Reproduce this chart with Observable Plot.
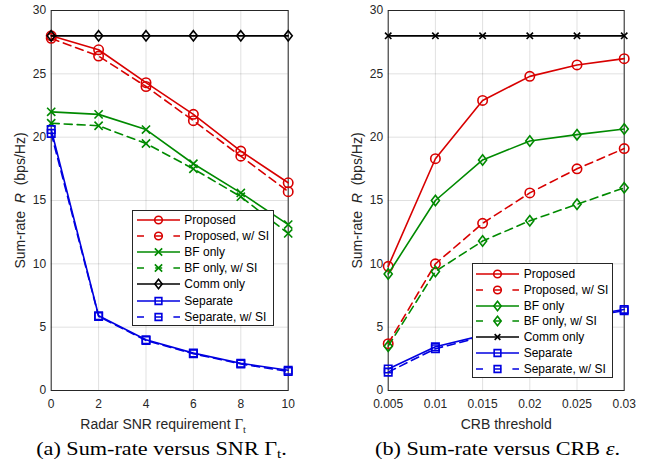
<!DOCTYPE html>
<html><head><meta charset="utf-8">
<script src="https://cdn.jsdelivr.net/npm/d3@7"></script>
<script src="https://cdn.jsdelivr.net/npm/@observablehq/plot@0.6"></script>
<style>
body{margin:0;background:#fff}
#root{position:relative;width:650px;height:462px;overflow:hidden;background:#fff;font-family:"Liberation Sans",Arial,sans-serif}
.panel{position:absolute;top:0;width:325px;height:438px}
.legend{position:absolute;box-sizing:border-box;border:1px solid #262626;background:#fff;font-size:12px;color:#000}
.legend .row{position:absolute;left:0;height:16px;width:100%}
.legend .row svg{position:absolute;left:3.4px;top:0}
.legend .row span{position:absolute;left:51px;top:0;line-height:16px;white-space:nowrap}
.cap{position:absolute;top:439px;width:325px;text-align:center;font-family:"Liberation Serif","Times New Roman",serif;font-size:18.5px;line-height:20px;transform:scaleX(1.2);transform-origin:center;color:#000;white-space:nowrap}
.cap sub{font-size:12.5px;vertical-align:-3px;line-height:0}
</style></head>
<body>
<div id="root">
  <div id="pa" class="panel" style="left:0"></div>
  <div id="pb" class="panel" style="left:325px"></div>
  <div id="la" class="legend" style="left:132.3px;top:210px;width:141.4px;height:116px"></div>
  <div id="lb" class="legend" style="left:471.7px;top:263.3px;width:141px;height:115px"></div>
  <div class="cap" style="left:-1px">(a) Sum-rate versus SNR Γ<sub>t</sub>.</div>
  <div class="cap" style="left:335px">(b) Sum-rate versus CRB <i>ε</i>.</div>
</div>
<script>
// ---------- data: panel (a) ----------
const snrX = [0, 2, 4, 6, 8, 10];
const snrProposed   = [28.0, 26.9, 24.3, 21.8, 18.9, 16.4];
const snrProposedSI = [27.8, 26.4, 24.0, 21.3, 18.5, 15.7];
const snrBF         = [22.0, 21.8, 20.6, 17.9, 15.6, 13.1];
const snrBFSI       = [21.1, 20.9, 19.5, 17.5, 15.3, 12.4];
const snrComm       = [28.0, 28.0, 28.0, 28.0, 28.0, 28.0];
const snrSep        = [20.6, 5.9, 4.0, 2.95, 2.15, 1.6];
const snrSepSI      = [20.3, 5.85, 3.95, 2.9, 2.1, 1.5];
// ---------- data: panel (b) ----------
const crbX = [0.005, 0.01, 0.015, 0.02, 0.025, 0.03];
const crbProposed   = [9.8, 18.3, 22.9, 24.8, 25.7, 26.2];
const crbProposedSI = [3.7, 10.0, 13.2, 15.6, 17.5, 19.1];
const crbBF         = [9.2, 15.0, 18.2, 19.7, 20.2, 20.65];
const crbBFSI       = [3.5, 9.4, 11.8, 13.4, 14.7, 16.0];
const crbComm       = [28.0, 28.0, 28.0, 28.0, 28.0, 28.0];
const crbSep        = [1.7, 3.45, 4.35, 5.1, 5.8, 6.4];
const crbSepSI      = [1.45, 3.3, 4.25, 5.0, 5.7, 6.3];
// ---------- ticks & labels ----------
const yTicks = [0, 5, 10, 15, 20, 25, 30];
const snrTicks = [0, 2, 4, 6, 8, 10];
const crbTicks = [0.005, 0.01, 0.015, 0.02, 0.025, 0.03];
const crbTickLabels = ["0.005", "0.01", "0.015", "0.02", "0.025", "0.03"];
const legendLabels = ["Proposed", "Proposed, w/ SI", "BF only", "BF only, w/ SI", "Comm only", "Separate", "Separate, w/ SI"];

// ---------- styles ----------
const RED = "#d80000", GREEN = "#008a00", BLACK = "#000000", BLUE = "#0000e0";
const DASH = "8,5";
const LW = 1.6;
const diamondSym = {draw(ctx, size) {
  const r = Math.sqrt(size / Math.PI);
  ctx.moveTo(0, -r); ctx.lineTo(r * 0.78, 0); ctx.lineTo(0, r); ctx.lineTo(-r * 0.78, 0); ctx.closePath();
}};
const seriesA = [
  {y: snrProposed,   color: RED,   dash: null, sym: "circle", r: 4.7},
  {y: snrProposedSI, color: RED,   dash: DASH, sym: "circle", r: 4.7},
  {y: snrBF,         color: GREEN, dash: null, sym: "times",  r: 3.8},
  {y: snrBFSI,       color: GREEN, dash: DASH, sym: "times",  r: 3.8},
  {y: snrComm,       color: BLACK, dash: null, sym: diamondSym, r: 5.2},
  {y: snrSep,        color: BLUE,  dash: null, sym: "square", r: 4.2},
  {y: snrSepSI,      color: BLUE,  dash: DASH, sym: "square", r: 4.2}
];
const seriesB = [
  {y: crbProposed,   color: RED,   dash: null, sym: "circle", r: 4.7},
  {y: crbProposedSI, color: RED,   dash: DASH, sym: "circle", r: 4.7},
  {y: crbBF,         color: GREEN, dash: null, sym: diamondSym, r: 5.2},
  {y: crbBFSI,       color: GREEN, dash: DASH, sym: diamondSym, r: 5.2},
  {y: crbComm,       color: BLACK, dash: null, sym: "times",  r: 3.0},
  {y: crbSep,        color: BLUE,  dash: null, sym: "square", r: 4.2},
  {y: crbSepSI,      color: BLUE,  dash: DASH, sym: "square", r: 4.2}
];

function makePanel(xs, series, o) {
  const marks = [
    Plot.gridX(o.xTicks, {stroke: "#000", strokeOpacity: 0.12}),
    Plot.gridY(yTicks, {stroke: "#000", strokeOpacity: 0.12}),
    Plot.frame({stroke: "#262626"}),
    Plot.axisX(o.xTicks, {tickSize: 0, tickPadding: 9, tickFormat: o.tickFormat, label: o.xLabel,
      labelAnchor: "center", labelArrow: "none", labelOffset: 38}),
    Plot.axisY(yTicks, {tickSize: 0, tickPadding: 5, label: "Sum-rate R (bps/Hz)",
      labelAnchor: "center", labelArrow: "none", labelOffset: 36.5})
  ];
  for (const s of series) {
    const rows = xs.map((x, i) => ({x, y: s.y[i]}));
    marks.push(Plot.line(rows, {x: "x", y: "y", stroke: s.color, strokeWidth: LW, strokeDasharray: s.dash}));
    marks.push(Plot.dot(rows, {x: "x", y: "y", stroke: s.color, fill: "none", strokeWidth: LW, symbol: s.sym, r: s.r}));
  }
  return Plot.plot({
    width: 325, height: 438,
    marginLeft: o.ml, marginRight: o.mr, marginTop: 10, marginBottom: 48,
    x: {domain: o.xDomain}, y: {domain: [0, 30]},
    style: {fontFamily: '"Liberation Sans", Arial, sans-serif', fontSize: "12px", color: "#262626", background: "transparent", overflow: "visible"},
    marks
  });
}

const NS = "http://www.w3.org/2000/svg";
function patchLabel(svg, axis, parts) {
  const t = svg.querySelector(`g[aria-label="${axis}-axis label"] text`);
  if (!t) return;
  t.textContent = "";
  t.style.fontSize = "14px";
  for (const p of parts) {
    const ts = document.createElementNS(NS, "tspan");
    ts.textContent = p.text;
    if (p.style) ts.setAttribute("style", p.style);
    if (p.dy) ts.setAttribute("dy", p.dy);
    if (p.dx) ts.setAttribute("dx", p.dx);
    t.appendChild(ts);
  }
}

const svgA = makePanel(snrX, seriesA, {xTicks: snrTicks, xDomain: [0, 10], ml: 50.7, mr: 37.3,
  xLabel: "Radar SNR requirement Γt", tickFormat: d => String(d)});
const svgB = makePanel(crbX, seriesB, {xTicks: crbTicks, xDomain: [0.005, 0.03], ml: 62.7, mr: 26.3,
  xLabel: "CRB threshold", tickFormat: d => crbTickLabels[crbTicks.indexOf(d)]});

for (const svg of [svgA, svgB]) {
  patchLabel(svg, "y", [
    {text: "Sum-rate\u00a0\u00a0"},
    {text: "R", style: "font-style:italic"},
    {text: "\u00a0\u00a0(bps/Hz)"}
  ]);
}
patchLabel(svgA, "x", [
  {text: "Radar SNR requirement ", dx: "-6.5"},
  {text: "Γ", style: 'font-family:"Liberation Serif","Times New Roman",serif;font-size:15px'},
  {text: "t", style: 'font-family:"Liberation Serif","Times New Roman",serif;font-size:10.5px', dy: "0.45em"}
]);
patchLabel(svgB, "x", [{text: "CRB threshold"}]);

document.getElementById("pa").appendChild(svgA);
document.getElementById("pb").appendChild(svgB);

// ---------- legends ----------
function swatch(s, legendR) {
  const w = 43, h = 16, cy = 8, cx = 21.5;
  const svg = document.createElementNS(NS, "svg");
  svg.setAttribute("width", w); svg.setAttribute("height", h);
  const line = document.createElementNS(NS, "line");
  line.setAttribute("x1", 0); line.setAttribute("x2", w); line.setAttribute("y1", cy); line.setAttribute("y2", cy);
  line.setAttribute("stroke", s.color); line.setAttribute("stroke-width", LW);
  if (s.dash) line.setAttribute("stroke-dasharray", "7,11.2");
  svg.appendChild(line);
  const r = legendR;
  let el;
  if (s.sym === "circle") {
    el = document.createElementNS(NS, "circle");
    el.setAttribute("cx", cx); el.setAttribute("cy", cy); el.setAttribute("r", r * 0.9);
  } else {
    const path = d3.path();
    const symObj = s.sym === "square" ? d3.symbolSquare : s.sym === "times" ? d3.symbolTimes : s.sym;
    symObj.draw(path, Math.PI * r * r);
    el = document.createElementNS(NS, "path");
    el.setAttribute("d", path.toString());
    el.setAttribute("transform", `translate(${cx},${cy})`);
  }
  el.setAttribute("fill", "none"); el.setAttribute("stroke", s.color); el.setAttribute("stroke-width", LW);
  svg.appendChild(el);
  return svg;
}
function makeLegend(id, series, firstCenter, pitch) {
  const box = document.getElementById(id);
  series.forEach((s, i) => {
    const row = document.createElement("div");
    row.className = "row";
    row.style.top = (firstCenter - 1 - 8 + i * pitch) + "px";
    row.appendChild(swatch(s, s.r * 0.9));
    const span = document.createElement("span");
    span.textContent = legendLabels[i];
    row.appendChild(span);
    box.appendChild(row);
  });
}
makeLegend("la", seriesA, 10, 16.1);
makeLegend("lb", seriesB, 10.7, 15.83);
</script>
</body></html>
